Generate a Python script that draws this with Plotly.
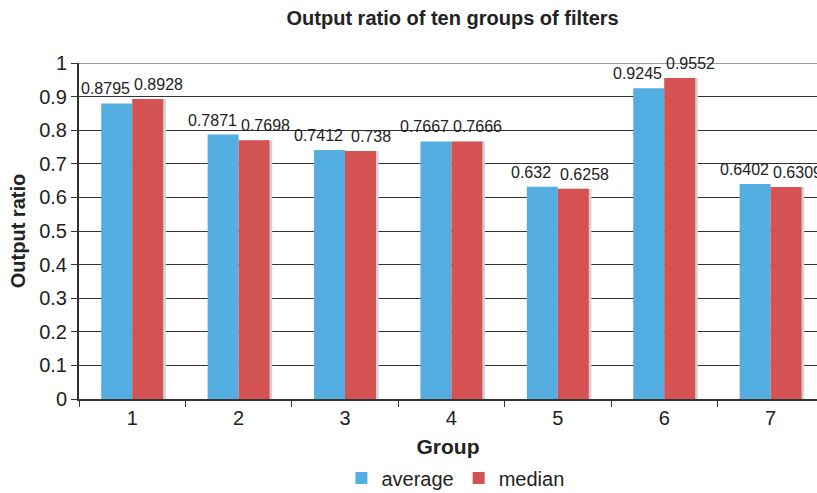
import plotly.graph_objects as go

groups = ["1", "2", "3", "4", "5", "6", "7"]
average = [0.8795, 0.7871, 0.7412, 0.7667, 0.632, 0.9245, 0.6402]
median = [0.8928, 0.7698, 0.738, 0.7666, 0.6258, 0.9552, 0.6309]
avg_labels = ["0.8795", "0.7871", "0.7412", "0.7667", "0.632", "0.9245", "0.6402"]
med_labels = ["0.8928", "0.7698", "0.738", "0.7666", "0.6258", "0.9552", "0.6309"]

BLUE = "#55AEE2"
RED = "#D55253"
SHADOW = "#CDD2DC"
FONT = "Liberation Sans, Arial, Helvetica, sans-serif"
W = 0.291

fig = go.Figure()
fig.add_trace(go.Bar(x=groups, y=median, offset=0.025, width=W, marker_color=SHADOW,
                     marker_line_width=0, showlegend=False, hoverinfo="skip"))
fig.add_trace(go.Bar(x=groups, y=average, name="average", offset=-W, width=W,
                     marker_color=BLUE, marker_line_width=0))
fig.add_trace(go.Bar(x=groups, y=median, name="median", offset=0, width=W,
                     marker_color=RED, marker_line_width=0))

ann = []
for i, (v, t) in enumerate(zip(average, avg_labels)):
    ann.append(dict(x=i - W / 2, y=v, text=t, showarrow=False, xref="x", yref="y",
                    yanchor="bottom", xanchor="center", xshift=-11, yshift=4,
                    font=dict(size=16, color="#222", family=FONT)))
for i, (v, t) in enumerate(zip(median, med_labels)):
    ann.append(dict(x=i + W / 2, y=v, text=t, showarrow=False, xref="x", yref="y",
                    yanchor="bottom", xanchor="center", xshift=11, yshift=4,
                    font=dict(size=16, color="#222", family=FONT)))

fig.update_layout(
    width=817, height=493,
    margin=dict(l=79, r=0, t=63, b=94, autoexpand=False),
    barmode="overlay",
    paper_bgcolor="white", plot_bgcolor="white",
    font=dict(family=FONT, color="#222"),
    title=dict(text="<b>Output ratio of ten groups of filters</b>", x=0.554, xanchor="center",
               y=0.963, yanchor="middle", font=dict(size=20, color="#222", family=FONT)),
    annotations=ann,
    legend=dict(orientation="h", x=0.51, xanchor="center", y=-0.235, yanchor="middle",
                font=dict(size=20, color="#222", family=FONT), itemwidth=30,
                traceorder="normal"),
    shapes=[dict(type="line", xref="paper", yref="y", x0=0, x1=1, y0=1, y1=1,
                 line=dict(color="#9A9A9A", width=2))],
)
fig.update_xaxes(
    type="category", range=[-0.5, 6.436], automargin=False,
    showline=True, linecolor="#333", linewidth=2,
    ticks="outside", ticklen=6, tickcolor="#333", tickson="boundaries",
    tickfont=dict(size=20, color="#222", family=FONT),
    title=dict(text="<b>Group</b>", font=dict(size=21, color="#222", family=FONT), standoff=11),
    showgrid=False,
)
fig.update_yaxes(
    range=[0, 1], dtick=0.1, tickformat="~g", automargin=False,
    showline=True, linecolor="#333", linewidth=2,
    ticks="outside", ticklen=6, tickcolor="#333",
    tickfont=dict(size=20, color="#222", family=FONT),
    showgrid=True, gridcolor="#333", gridwidth=1, zeroline=False,
    title=dict(text="<b>Output ratio</b>", font=dict(size=20, color="#222", family=FONT), standoff=8),
)

fig.write_html("out.html")
